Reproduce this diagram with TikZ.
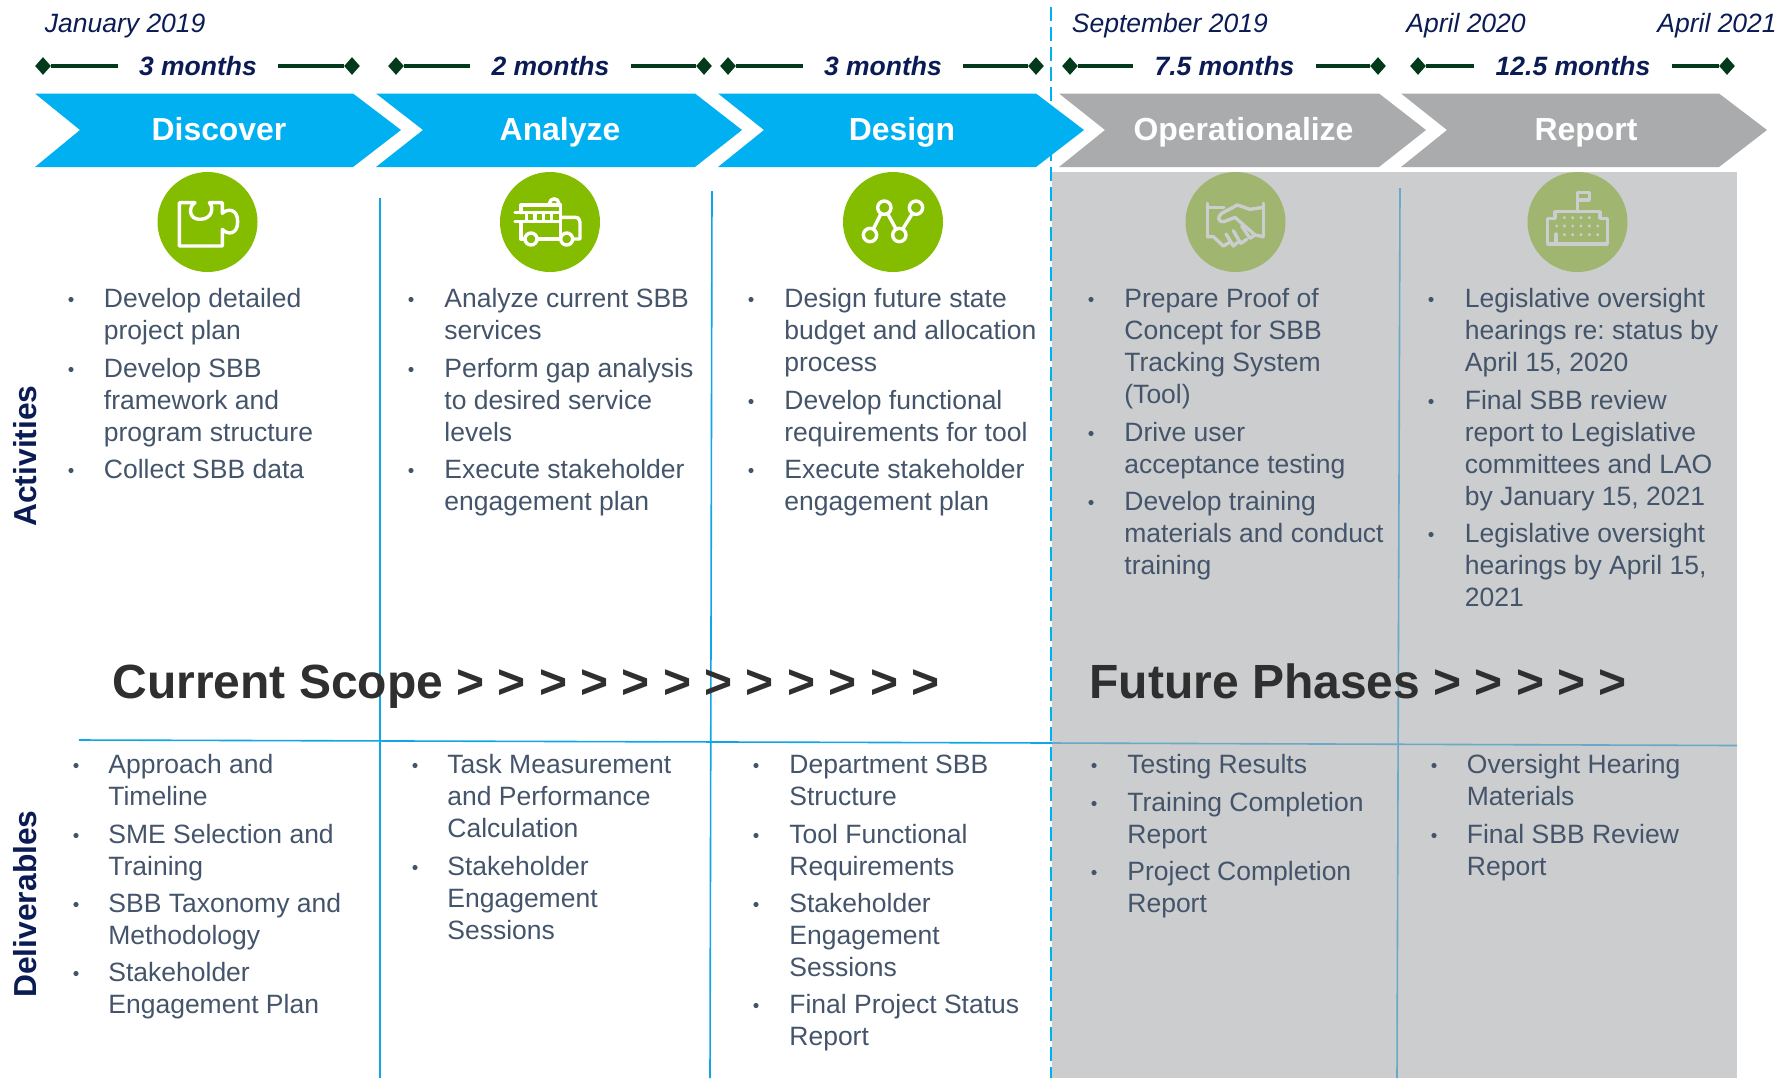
\documentclass[tikz,border=0pt]{standalone}
\usepackage{fontspec}
\setmainfont{Liberation Sans}
\frenchspacing
\usetikzlibrary{shapes.geometric,calc}
\definecolor{cblue}{HTML}{00B0F0}
\definecolor{cgrey}{HTML}{AAABAD}
\definecolor{panel}{HTML}{CBCDCF}
\definecolor{lgreen}{HTML}{84BD00}
\definecolor{fgreen}{HTML}{A0B56F}
\definecolor{navy}{HTML}{0B1B54}
\definecolor{dgreen}{HTML}{033A1C}
\definecolor{bodyc}{HTML}{44546A}
\definecolor{rulec}{HTML}{0FA5E6}
\definecolor{rulefade}{HTML}{6BA8C6}
\definecolor{bigt}{HTML}{2F2F2F}
\tikzset{
  x=0.5pt,y=-0.5pt,
  datelab/.style={anchor=base west,inner sep=0pt,font=\fontsize{13.25}{16}\selectfont\itshape,text=navy},
  durlab/.style={inner xsep=10.5pt,inner ysep=0pt,font=\fontsize{13.25}{16}\selectfont\bfseries\itshape,text=navy},
  endmark/.style={diamond,fill=dgreen,inner sep=0pt,minimum width=8pt,minimum height=9pt},
  spanline/.style={draw=dgreen,line width=1.7pt},
  chevlab/.style={anchor=base,inner sep=0pt,font=\fontsize{15.95}{18}\selectfont\bfseries,text=white},
  disc/.style={circle,inner sep=0pt,minimum size=50pt},
  iconline/.style={line width=1.7pt,line join=round,line cap=round},
  itemtext/.style={anchor=north west,inner sep=0pt,align=left,text=bodyc,font=\fontsize{13.25}{16}\selectfont},
  bulletdot/.style={circle,fill=bodyc,inner sep=0pt,minimum size=2.6pt},
  sidelab/.style={rotate=90,inner sep=0pt,font=\fontsize{15.9}{18}\selectfont\bfseries,text=navy},
  biglab/.style={anchor=base west,inner sep=0pt,font=\fontsize{24}{28}\selectfont\bfseries,text=bigt},
  divider/.style={draw=rulec,line width=0.8pt},
  dividerfade/.style={draw=rulefade,line width=0.8pt},
}
\newcommand{\chev}[5]{% colour, left, notch, topright, tip
  \path[fill=#1] (#2,93.5) -- (#4,93.5) -- (#5,130) -- (#4,167) -- (#2,167) -- (#3,130) -- cycle;
}
\newcommand{\durspan}[5]{% name, left x, right x, label x, text
  \node[endmark] (#1a) at (#2,66) {};
  \node[endmark] (#1b) at (#3,66) {};
  \node[durlab] (#1t) at (#4,66) {#5};
  \draw[spanline] (#1a) -- (#1t);
  \draw[spanline] (#1t) -- (#1b);
}
\newcommand{\entry}[5]{% name, bullet x, text x, y of first line centre, lines
  \node[bulletdot] (#1d) at (#2,#4+1.5) {};
  \node[itemtext] (#1) at (#3,#4-13) {\strut #5};
}
\newcommand{\lf}{\\\strut}
\begin{document}
\begin{tikzpicture}
\useasboundingbox (0,0) rectangle (1789,1078);
% panel
\fill[panel] (1052,172) rectangle (1737,1078);
% chevrons
\chev{cblue}{35}{80}{353}{401}
\chev{cblue}{376}{423}{695}{742}
\chev{cblue}{718}{764}{1036}{1084}
\chev{cgrey}{1059}{1105}{1379}{1426}
\chev{cgrey}{1401}{1447}{1719}{1767}
\node[chevlab] (c1) at (219,140.5) {Discover};
\node[chevlab] (c2) at (560,140.5) {Analyze};
\node[chevlab] (c3) at (902,140.5) {Design};
\node[chevlab] (c4) at (1243.5,140.5) {Operationalize};
\node[chevlab] (c5) at (1586,140.5) {Report};
% dates
\node[datelab] (d1) at (44.5,32) {January 2019};
\node[datelab] (d2) at (1071.5,32) {September 2019};
\node[datelab] (d3) at (1406,32) {April 2020};
\node[datelab] (d4) at (1657,32) {April 2021};
% spans
\durspan{s1}{43}{352}{198}{3 months}
\durspan{s2}{396}{704}{550.5}{2 months}
\durspan{s3}{728}{1036}{883}{3 months}
\durspan{s4}{1070}{1378}{1224.5}{7.5 months}
\durspan{s5}{1418}{1727}{1573}{12.5 months}
% dividers
\coordinate (v1t) at (380,198); \coordinate (v1b) at (380,1078);
\coordinate (v2t) at (712,191); \coordinate (v2b) at (710,1078);
\coordinate (v4t) at (1400,188); \coordinate (v4b) at (1397,1078);
\coordinate (ha) at (79,740); \coordinate (hm) at (1052,743); \coordinate (hb) at (1737,745.5);
\draw[divider] (v1t) -- (v1b);
\draw[divider] (v2t) -- (v2b);
\draw[divider] (ha) -- (hm);
\draw[dividerfade] (hm) -- (hb);
\draw[dividerfade] (v4t) -- (v4b);
\coordinate (dt) at (1051,7); \coordinate (db) at (1051,1078);
\draw[draw=cblue,line width=1pt,dash pattern=on 7pt off 3pt] (dt) -- (db);
% discs
\node[disc,fill=lgreen] (i1) at (207.5,222) {};
\node[disc,fill=lgreen] (i2) at (550,222) {};
\node[disc,fill=lgreen] (i3) at (893,222) {};
\node[disc,fill=fgreen] (i4) at (1235.5,222) {};
\node[disc,fill=fgreen] (i5) at (1577.5,222) {};
% puzzle
\begin{scope}[shift={(140,160)},x=0.16667pt,y=-0.16667pt,iconline,draw=white]
\draw (118,128) -- (165,128) .. controls (145,140) and (145,178) .. (180,178) .. controls (218,178) and (222,140) .. (208,128) -- (247,128) -- (247,160) .. controls (262,145) and (293,145) .. (293,185) .. controls (293,225) and (262,225) .. (247,208) -- (247,258) -- (118,258) -- cycle;
% bus
\draw (1143,158) -- (1143,135) -- (1262,135) -- (1262,237) -- (1195,237);
\draw (1143,185) -- (1143,237) -- (1152,237);
\draw (1262,172) -- (1305,172) .. controls (1315,172) and (1320,178) .. (1320,187) -- (1320,237) -- (1300,237);
\draw (1173,237) circle (18);
\draw (1280,237) circle (18);
\draw (1125,158) -- (1255,158);
\draw (1125,185) -- (1255,185);
\foreach \q in {1160,1185,1210,1235} \draw (\q,160) -- (\q,183);
\draw (1228,130) .. controls (1230,112) and (1255,112) .. (1257,130);
\end{scope}
% chart
\begin{scope}[shift={(820,160)},x=0.16667pt,y=-0.16667pt,iconline,draw=white]
\draw (150,225) circle (20);
\draw (193,143) circle (20);
\draw (238,225) circle (20);
\draw (288,143) circle (20);
\draw (160,207) -- (183,161);
\draw (203,161) -- (228,207);
\draw (248,207) -- (277,161);
\end{scope}
% handshake
\begin{scope}[shift={(820,160)},x=0.16667pt,y=-0.16667pt,iconline,draw=panel]
\draw (1162,130) -- (1162,230);
\draw (1330,130) -- (1330,230);
\draw (1162,142) -- (1212,142);
\draw (1330,142) -- (1290,148) -- (1252,135) -- (1205,160) .. controls (1190,170) and (1195,188) .. (1212,185) -- (1245,172) -- (1305,225);
\draw (1162,230) -- (1180,230) -- (1210,258) -- (1232,245);
\draw (1218,222) -- (1240,258) -- (1255,245);
\draw (1240,212) -- (1262,250) -- (1280,238);
\draw (1265,198) -- (1290,235) -- (1305,225) -- (1330,230);
\end{scope}
% building
\begin{scope}[shift={(1500,160)},x=0.16667pt,y=-0.16667pt,iconline,draw=panel]
\draw (143,252) -- (143,175) -- (165,175) -- (165,155) -- (300,155) -- (300,175) -- (322,175) -- (322,252) -- cycle;
\draw (168,252) -- (168,222);
\draw (232,155) -- (232,97) -- (268,97) -- (268,120) -- (232,120);
\foreach \q in {193,218,243,268} \fill[panel] (\q,173) circle (5);
\foreach \q in {170,193,218,243,268,293} \fill[panel] (\q,198) circle (5);
\foreach \q in {193,218,243,268,293} \fill[panel] (\q,224) circle (5);
\end{scope}
% activities
\entry{a11}{71}{103.5}{298}{Develop detailed\lf project plan}
\entry{a12}{71}{103.5}{368}{Develop SBB\lf framework and\lf program structure}
\entry{a13}{71}{103.5}{469}{Collect SBB data}
\entry{a21}{411}{444}{298}{Analyze current SBB\lf services}
\entry{a22}{411}{444}{368}{Perform gap analysis\lf to desired service\lf levels}
\entry{a23}{411}{444}{469}{Execute stakeholder\lf engagement plan}
\entry{a31}{751}{784}{298}{Design future state\lf budget and allocation\lf process}
\entry{a32}{751}{784}{400}{Develop functional\lf requirements for tool}
\entry{a33}{751}{784}{469}{Execute stakeholder\lf engagement plan}
\entry{a41}{1091}{1124}{298}{Prepare Proof of\lf Concept for SBB\lf Tracking System\lf (Tool)}
\entry{a42}{1091}{1124}{432}{Drive user\lf acceptance testing}
\entry{a43}{1091}{1124}{501}{Develop training\lf materials and conduct\lf training}
\entry{a51}{1431}{1464.5}{298}{Legislative oversight\lf hearings re: status by\lf April 15, 2020}
\entry{a52}{1431}{1464.5}{400}{Final SBB review\lf report to Legislative\lf committees and LAO\lf by January 15, 2021}
\entry{a53}{1431}{1464.5}{533}{Legislative oversight\lf hearings by April 15,\lf 2021}
% big
\node[biglab] (b1) at (112,698) {Current Scope > > > > > > > > > > > >};
\node[biglab] (b2) at (1089,698) {Future Phases > > > > >};
% deliverables
\entry{d11}{76}{108}{764}{Approach and\lf Timeline}
\entry{d12}{76}{108}{834}{SME Selection and\lf Training}
\entry{d13}{76}{108}{903}{SBB Taxonomy and\lf Methodology}
\entry{d14}{76}{108}{972}{Stakeholder\lf Engagement Plan}
\entry{d21}{415}{447}{764}{Task Measurement\lf and Performance\lf Calculation}
\entry{d22}{415}{447}{866}{Stakeholder\lf Engagement\lf Sessions}
\entry{d31}{756}{789}{764}{Department SBB\lf Structure}
\entry{d32}{756}{789}{834}{Tool Functional\lf Requirements}
\entry{d33}{756}{789}{903}{Stakeholder\lf Engagement\lf Sessions}
\entry{d34}{756}{789}{1004}{Final Project Status\lf Report}
\entry{d41}{1094}{1127}{764}{Testing Results}
\entry{d42}{1094}{1127}{802}{Training Completion\lf Report}
\entry{d43}{1094}{1127}{871}{Project Completion\lf Report}
\entry{d51}{1434}{1466.5}{764}{Oversight Hearing\lf Materials}
\entry{d52}{1434}{1466.5}{834}{Final SBB Review\lf Report}
% side
\node[sidelab] (l1) at (25,456) {Activities};
\node[sidelab] (l2) at (25,904) {Deliverables};
\end{tikzpicture}
\end{document}
